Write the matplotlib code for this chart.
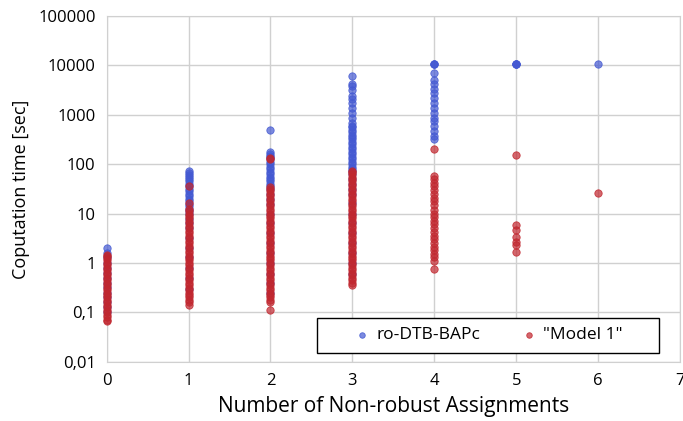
import matplotlib
matplotlib.use("Agg")
from matplotlib import pyplot as plt
from matplotlib.colors import to_rgba
from matplotlib.patches import Rectangle

# computation time [sec] per number of non-robust assignments
dtb_0 = [2.0, 1.6, 1.3, 1.0, 0.8, 0.63, 0.5, 0.4, 0.32, 0.25, 0.2, 0.16, 0.13, 0.1]
dtb_1 = [72, 66, 60, 55, 50, 44.7, 39.8, 35.5, 31.6, 28.2, 25.1, 22.4, 20.0, 17.8, 15.8, 14.1,
         12.6, 11.2, 10.0, 7.9, 6.3, 5.0, 3.2, 2.0, 1.3, 0.8, 0.5, 0.3]
dtb_2 = [490, 175, 160, 145, 141, 126, 112, 100, 89.1, 79.4, 70.8, 63.1, 56.2, 50.1, 44.7,
         39.8, 35.5, 31.6, 25.1, 20.0, 15.8, 10.0, 6.3, 4.0, 2.5, 1.6, 1.0, 0.6, 0.4, 0.25]
dtb_3 = [6100, 4200, 3800, 3200, 2400, 2100, 1700, 1400, 1100, 870, 680, 600, 562, 501, 447,
         398, 355, 316, 282, 251, 224, 200, 178, 158, 141, 126, 112, 100, 89.1, 79.4, 72,
         63, 50, 40, 32, 25, 16, 10, 6.3, 4.0, 2.5, 1.6, 1.0, 0.6]
dtb_4 = [10800, 10800, 10700, 7100, 5000, 4200, 3300, 2800, 2200, 1750, 1400, 1100, 870, 750,
         590, 470, 370, 320]
dtb_5 = [10800, 10800, 10750, 10850]
dtb_6 = [10800]

m1_0 = [1.45, 1.41, 1.26, 1.12, 1.0, 0.891, 0.794, 0.708, 0.631, 0.562, 0.501, 0.447, 0.398,
        0.355, 0.316, 0.282, 0.251, 0.224, 0.2, 0.178, 0.158, 0.141, 0.126, 0.112, 0.1,
        0.0891, 0.0794, 0.0708, 0.067]
m1_1 = [36, 16, 12.5, 11.2, 10.0, 8.91, 7.94, 7.08, 6.31, 5.62, 5.01, 4.47, 3.98, 3.55, 3.16,
        2.82, 2.51, 2.24, 2.0, 1.78, 1.58, 1.41, 1.26, 1.12, 1.0, 0.891, 0.794, 0.708, 0.631,
        0.562, 0.501, 0.447, 0.398, 0.355, 0.316, 0.282, 0.251, 0.224, 0.2, 0.178, 0.158, 0.14]
m1_2 = [135, 125, 35, 31.6, 28.2, 25.1, 22.4, 20.0, 17.8, 15.8, 14.1, 12.6, 11.2, 10.0, 8.91,
        7.94, 7.08, 6.31, 5.62, 5.01, 4.47, 3.98, 3.55, 3.16, 2.82, 2.51, 2.24, 2.0, 1.78,
        1.58, 1.41, 1.26, 1.12, 1.0, 0.891, 0.794, 0.708, 0.631, 0.562, 0.501, 0.447, 0.398,
        0.355, 0.316, 0.282, 0.251, 0.224, 0.2, 0.178, 0.158, 0.11]
m1_3 = [72, 70.8, 63.1, 56.2, 50.1, 44.7, 39.8, 35.5, 31.6, 28.2, 25.1, 22.4, 20.0, 17.8,
        15.8, 14.1, 12.6, 11.2, 10.0, 8.91, 7.94, 7.08, 6.31, 5.62, 5.01, 4.47, 3.98, 3.55,
        3.16, 2.82, 2.51, 2.24, 2.0, 1.78, 1.58, 1.41, 1.26, 1.12, 1.0, 0.891, 0.794, 0.708,
        0.631, 0.562, 0.501, 0.447, 0.398, 0.36]
m1_4 = [200, 58, 50, 42, 36, 30, 25, 21, 18, 15, 12, 10, 8.5, 7, 6, 5, 4.2, 3.5, 3, 2.5, 2.1,
        1.8, 1.5, 1.3, 1.1, 0.75]
m1_5 = [155, 5.9, 4.7, 3.4, 2.7, 2.3, 1.7]
m1_6 = [26]

dtb_series = [dtb_0, dtb_1, dtb_2, dtb_3, dtb_4, dtb_5, dtb_6]
m1_series = [m1_0, m1_1, m1_2, m1_3, m1_4, m1_5, m1_6]

y_ticks = [0.01, 0.1, 1, 10, 100, 1000, 10000, 100000]
y_tick_labels = ["0,01", "0,1", "1", "10", "100", "1000", "10000", "100000"]
x_ticks = [0, 1, 2, 3, 4, 5, 6, 7]

BLUE = "#4459d2"
RED = "#c1272f"


def flatten(series):
    xs, ys = [], []
    for n, values in enumerate(series):
        xs += [n] * len(values)
        ys += values
    return xs, ys


plt.rcParams["font.family"] = ["Open Sans", "DejaVu Sans"]

fig = plt.figure(figsize=(6.83, 4.21), dpi=100)
ax = fig.add_axes([0.1562, 0.1409, 0.8394, 0.8211])

x, y = flatten(dtb_series)
ax.scatter(x, y, s=28, facecolor=to_rgba(BLUE, 0.7), edgecolor=to_rgba(BLUE, 0.85),
           linewidth=0.6, label="ro-DTB-BAPc", zorder=3, clip_on=False)
x, y = flatten(m1_series)
ax.scatter(x, y, s=28, facecolor=to_rgba(RED, 0.7), edgecolor=to_rgba(RED, 0.85),
           linewidth=0.6, label='"Model 1"', zorder=4, clip_on=False)

ax.set_yscale("log")
ax.set_ylim(0.01, 100000)
ax.set_yticks(y_ticks, y_tick_labels)
ax.minorticks_off()
ax.set_xlim(0, 7)
ax.set_xticks(x_ticks)

ax.grid(color="#d0d0d0", linewidth=1.0, zorder=0)
ax.set_axisbelow(True)
for spine in ax.spines.values():
    spine.set_color("#d0d0d0")
ax.tick_params(length=0, labelsize=12, pad=8)

ax.set_xlabel("Number of Non-robust Assignments", fontsize=15, labelpad=5)
ax.set_ylabel("Coputation time [sec]", fontsize=13, labelpad=6)

# legend box drawn separately so the entries can sit centred inside it
ax.add_patch(Rectangle((0.367, 0.025), 0.596, 0.101, transform=ax.transAxes,
                       facecolor="white", edgecolor="black", linewidth=1.0, zorder=5))
leg = ax.legend(loc="center", bbox_to_anchor=(0.665, 0.076), ncol=2, fontsize=12.5,
                frameon=False, markerscale=0.75, handlelength=1.0, handletextpad=0.3,
                columnspacing=2.3)
leg.set_zorder(6)

fig.savefig("out.png", dpi=100)
